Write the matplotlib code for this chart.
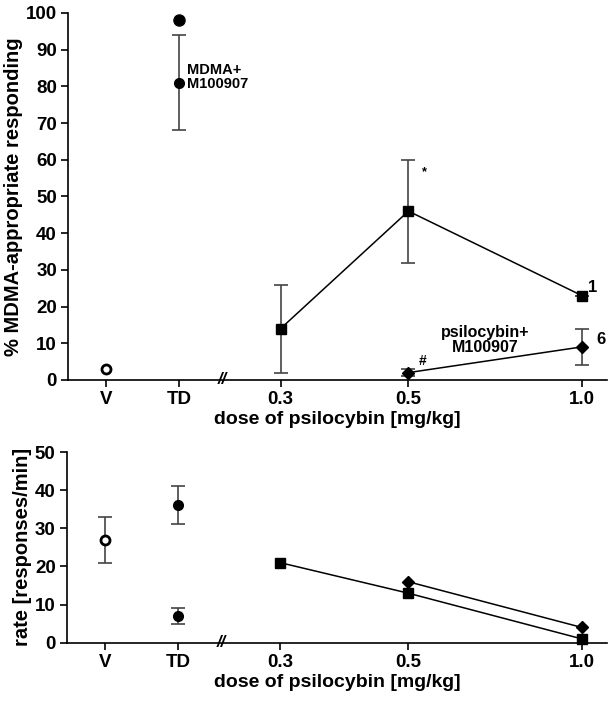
import numpy as np
import matplotlib
matplotlib.use("Agg")
import matplotlib.pyplot as plt
from matplotlib.transforms import blended_transform_factory

plt.rcParams['font.family'] = ['Liberation Sans', 'DejaVu Sans']
plt.rcParams['font.weight'] = 'bold'

# ---------------- data ----------------
tick_labels = ["V", "TD", "0.3", "0.5", "1.0"]
doses = [0.3, 0.5, 1.0]
doses_comb = [0.5, 1.0]

# Top panel: % MDMA-appropriate responding
top_vehicle = 3
top_td_mdma = 98
top_td_comb, top_td_comb_lo, top_td_comb_hi = 81, 68, 94
top_psi = [14, 46, 23]
top_psi_lo = [2, 32, 23]
top_psi_hi = [26, 60, 23]
top_comb = [2, 9]
top_comb_lo = [1, 4]
top_comb_hi = [3, 14]

# Bottom panel: rate [responses/min]
bot_vehicle, bot_vehicle_lo, bot_vehicle_hi = 27, 21, 33
bot_td = [36, 7]
bot_td_lo = [31, 5]
bot_td_hi = [41, 9]
bot_psi = [21, 13, 1]
bot_comb = [16, 4]

# ---------------- layout ----------------
X_V, X_TD, X_BREAK = -0.826, -0.699, -0.624
XLIM = (-0.892, 0.0435)

fig = plt.figure(figsize=(6.13, 7.01), dpi=100)
ax1 = fig.add_axes([0.111, 0.458, 0.879, 0.5235])
ax2 = fig.add_axes([0.109, 0.0832, 0.881, 0.272])

xd = np.log10(doses)
xc = np.log10(doses_comb)
ecol = '#444444'
ms = 7
TICK_FS = 13.5
LAB_FS = 14

def style(ax, ylim, yticks):
    ax.set_xlim(*XLIM)
    ax.set_ylim(*ylim)
    ax.set_yticks(yticks)
    ax.set_xticks([X_V, X_TD] + list(xd))
    ax.set_xticklabels(tick_labels)
    for s in ['top', 'right']:
        ax.spines[s].set_visible(False)
    for s in ['left', 'bottom']:
        ax.spines[s].set_linewidth(1.2)
    ax.tick_params(axis='both', labelsize=TICK_FS, width=1.2, length=5, direction='out', pad=3)
    ax.set_xlabel("dose of psilocybin [mg/kg]", fontsize=LAB_FS, fontweight='bold', labelpad=2)
    tr = blended_transform_factory(ax.transData, ax.transAxes)
    ax.text(X_BREAK, 0.0, "//", transform=tr, ha='center', va='center',
            fontsize=12, fontweight='bold', fontstyle='italic', clip_on=False)

# ---- top panel ----
ax = ax1
ax.errorbar([X_TD], [top_td_comb],
            yerr=[[top_td_comb - top_td_comb_lo], [top_td_comb_hi - top_td_comb]],
            fmt='none', ecolor=ecol, elinewidth=1.2, capsize=5, capthick=1.2)
ax.errorbar(xd, top_psi, yerr=[np.array(top_psi) - np.array(top_psi_lo),
                                np.array(top_psi_hi) - np.array(top_psi)],
            fmt='none', ecolor=ecol, elinewidth=1.2, capsize=5, capthick=1.2)
ax.errorbar(xc, top_comb, yerr=[np.array(top_comb) - np.array(top_comb_lo),
                                 np.array(top_comb_hi) - np.array(top_comb)],
            fmt='none', ecolor=ecol, elinewidth=1.2, capsize=5, capthick=1.2)
ax.plot(xd, top_psi, '-s', color='black', lw=1.1, ms=ms, clip_on=False, zorder=3)
ax.plot(xc, top_comb, '-D', color='black', lw=1.1, ms=ms - 0.5, clip_on=False, zorder=3)
ax.plot([X_TD], [top_td_mdma], 'o', color='black', ms=ms + 1, clip_on=False, zorder=3)
ax.plot([X_TD], [top_td_comb], 'o', color='black', ms=ms, clip_on=False, zorder=3)
ax.plot([X_V], [top_vehicle], 'o', mfc='white', mec='black', mew=2, ms=ms - 0.5,
        clip_on=False, zorder=3)
style(ax, (0, 100), np.arange(0, 101, 10))
ax.set_ylabel("% MDMA-appropriate responding", fontsize=LAB_FS + 0.5, fontweight='bold', labelpad=2)

ax.text(-0.686, 82.5, "MDMA+\nM100907", fontsize=10.5, fontweight='bold',
        ha='left', va='center', linespacing=0.95)
ax.text(-0.168, 10.9, "psilocybin+\nM100907", fontsize=11.5, fontweight='bold',
        ha='center', va='center', linespacing=0.95)
ax.text(-0.274, 56.7, "*", fontsize=9, fontweight='bold', ha='center', va='center')
ax.text(-0.276, 5.2, "#", fontsize=10, fontweight='bold', ha='center', va='center')
ax.text(0.0196, 25.3, "1", fontsize=12, fontweight='bold', ha='center', va='center')
ax.text(0.0335, 10.9, "6", fontsize=12, fontweight='bold', ha='center', va='center')

# ---- bottom panel ----
ax = ax2
ax.errorbar([X_V], [bot_vehicle],
            yerr=[[bot_vehicle - bot_vehicle_lo], [bot_vehicle_hi - bot_vehicle]],
            fmt='none', ecolor=ecol, elinewidth=1.2, capsize=5, capthick=1.2)
ax.errorbar([X_TD, X_TD], bot_td, yerr=[np.array(bot_td) - np.array(bot_td_lo),
                                        np.array(bot_td_hi) - np.array(bot_td)],
            fmt='none', ecolor=ecol, elinewidth=1.2, capsize=5, capthick=1.2)
ax.plot(xd, bot_psi, '-s', color='black', lw=1.1, ms=ms, clip_on=False, zorder=3)
ax.plot(xc, bot_comb, '-D', color='black', lw=1.1, ms=ms - 0.5, clip_on=False, zorder=3)
ax.plot([X_TD, X_TD], bot_td, 'o', color='black', ms=ms, clip_on=False, zorder=3)
ax.plot([X_V], [bot_vehicle], 'o', mfc='white', mec='black', mew=2, ms=ms - 0.5,
        clip_on=False, zorder=3)
style(ax, (0, 50), np.arange(0, 51, 10))
ax.set_ylabel("rate [responses/min]", fontsize=LAB_FS + 0.5, fontweight='bold', labelpad=2)

fig.savefig("out.png", dpi=100)
